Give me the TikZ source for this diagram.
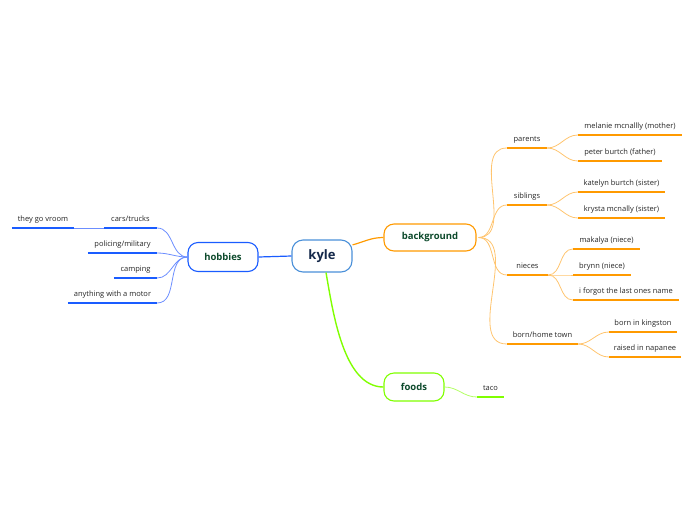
\documentclass[tikz,border=0pt]{standalone}
\usepackage{fontspec}
\setmainfont{Open Sans}
\usetikzlibrary{positioning}
\definecolor{ora}{HTML}{FF9A00}
\definecolor{oralt}{HTML}{FFC46E}
\definecolor{blu}{HTML}{1A5CFF}
\definecolor{blult}{HTML}{6C8EFF}
\definecolor{grn}{HTML}{80FF00}
\definecolor{grnlt}{HTML}{B4FF66}
\definecolor{kyleblue}{HTML}{4A90D9}
\definecolor{kyletext}{HTML}{14284A}
\definecolor{maintext}{HTML}{0D4A2C}

\begin{document}
\begin{tikzpicture}[
  x=1pt,y=-1pt,
  topic/.style={draw,rounded corners=10pt,line width=1.1pt,fill=white,
                font=\bfseries\fontsize{9.5}{11}\selectfont,text=maintext,
                minimum height=27pt,inner sep=2pt},
  leaf/.style={anchor=south,inner xsep=0pt,inner ysep=4pt,text depth=2pt,
               text height=5.5pt,font=\fontsize{7.5}{9}\selectfont,text=black!85},
  oline/.style={ora,line width=1.6pt},
  bline/.style={blu,line width=1.6pt},
  gline/.style={grn,line width=1.6pt},
  ocurve/.style={oralt,line width=0.8pt},
  bcurve/.style={blult,line width=0.8pt},
  gcurve/.style={grnlt,line width=0.8pt}
]
\useasboundingbox (0,0) rectangle (696,520);
% Central topic
\node[draw=kyleblue,rounded corners=11pt,line width=1.1pt,fill=white,
  minimum width=60pt,minimum height=32pt,text=kyletext,
  font=\bfseries\fontsize{13}{15}\selectfont] (kyle) at (322,256) {kyle};
% Main topics
\node[topic,draw=ora,minimum width=92pt] (bg) at (430,237.5) {background};
\node[topic,draw=blu,minimum width=70pt,minimum height=29pt] (hob) at (223,257) {hobbies};
\node[topic,draw=grn,minimum width=60pt,minimum height=28pt] (food) at (414,387) {foods};
% Hobbies
\node[leaf,minimum width=53pt] (cars) at (130.5,228) {cars/trucks};
\node[leaf,minimum width=62pt] (vroom) at (43,228) {they go vroom};
\node[leaf,minimum width=69pt] (police) at (122.5,253) {policing/military};
\node[leaf,minimum width=43pt] (camp) at (135.5,278) {camping};
\node[leaf,minimum width=89pt] (motor) at (112.5,303) {anything with a motor};
% Background
\node[leaf,minimum width=40pt] (par) at (527,148) {parents};
\node[leaf,minimum width=40pt] (sib) at (527,205) {siblings};
\node[leaf,minimum width=41pt] (niec) at (527.5,275) {nieces};
\node[leaf,minimum width=71pt] (born) at (542.5,344) {born/home town};
\node[leaf,minimum width=104pt] (mom) at (630,135) {melanie mcnallly (mother)};
\node[leaf,minimum width=84pt] (dad) at (620,161) {peter burtch (father)};
\node[leaf,minimum width=87pt] (kat) at (621.5,192) {katelyn burtch (sister)};
\node[leaf,minimum width=87pt] (kry) at (621.5,218) {krysta mcnally (sister)};
\node[leaf,minimum width=67pt] (mak) at (606.5,249) {makalya (niece)};
\node[leaf,minimum width=58pt] (bryn) at (602,275) {brynn (niece)};
\node[leaf,minimum width=106pt] (forgot) at (626,300) {i forgot the last ones name};
\node[leaf,minimum width=68pt] (king) at (643,332) {born in kingston};
\node[leaf,minimum width=72pt] (nap) at (645,357) {raised in napanee};
% Foods
\node[leaf,minimum width=27pt] (taco) at (490.5,397) {taco};
% Underlines
\foreach \n in {par,sib,niec,born,mom,dad,kat,kry,mak,bryn,forgot,king,nap}
  \draw[oline] (\n.south west) -- (\n.south east);
\foreach \n in {cars,vroom,police,camp,motor}
  \draw[bline] (\n.south west) -- (\n.south east);
\draw[gline] (taco.south west) -- (taco.south east);
% Connectors from kyle
\draw[ora,line width=1.2pt] (kyle.20) to[out=15,in=180] (bg.west);
\draw[blu,line width=1.2pt] (kyle.west) -- (hob.east);
\draw[grn,line width=1.4pt] ([xshift=4pt]kyle.south) to[out=-80,in=180,looseness=0.8] (food.west);
% Hobbies branches
\foreach \n in {cars,police,camp,motor}
  \draw[bcurve] (hob.west) to[out=180,in=0] (\n.south east);
\draw[bcurve] (cars.south west) -- (vroom.south east);
% Background branches
\foreach \n in {par,sib,niec,born}
  \draw[ocurve] ([xshift=2pt]bg.east) to[out=0,in=180] (\n.south west);
\foreach \n in {mom,dad}
  \draw[ocurve] (par.south east) to[out=0,in=180] (\n.south west);
\foreach \n in {kat,kry}
  \draw[ocurve] (sib.south east) to[out=0,in=180] (\n.south west);
\foreach \n in {mak,bryn,forgot}
  \draw[ocurve] (niec.south east) to[out=0,in=180] (\n.south west);
\foreach \n in {king,nap}
  \draw[ocurve] (born.south east) to[out=0,in=180] (\n.south west);
% Foods branch
\draw[gcurve] (food.east) to[out=0,in=180] (taco.south west);
\end{tikzpicture}
\end{document}
